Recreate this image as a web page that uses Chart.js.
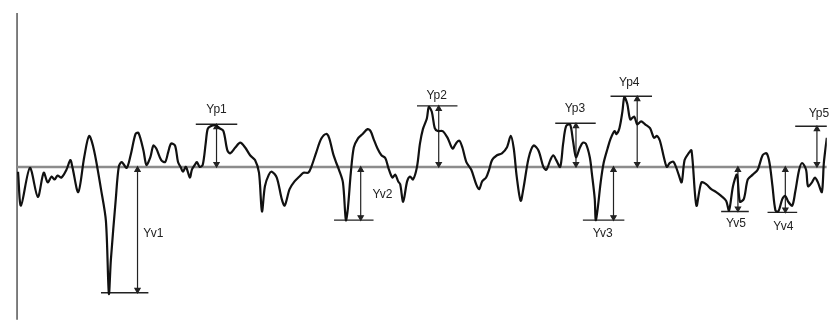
<!DOCTYPE html>
<html>
<head>
<meta charset="utf-8">
<script src="https://cdn.jsdelivr.net/npm/chart.js@4"></script>
<style>
  html, body { margin: 0; padding: 0; background: #fff; }
  #wrap { width: 832px; height: 327px; position: relative; }
</style>
</head>
<body>
<div id="wrap"><canvas id="profileChart"></canvas></div>
<script>
// profile trace: position along the sample and height above the mean line
const profileX = [13,16,25,33,39,43,47,50,53,57,62,66,68,74,80,85,90,97,102,105,107,112,115,118,123,127,132,135,
    140,143,147,150,153,158,162,165,168,172,175,178,180,183,187,189,192,194,197,200,203,205,208,213,217,221,225,228,
    233,238,243,248,253,257,260,263,267,270,275,280,283,288,293,298,302,307,310,315,320,325,328,332,335,338,342,345,
    347,350,353,357,362,367,370,373,377,381,385,388,392,395,398,400,403,407,410,413,417,420,423,427,429,432,435,438,
    443,448,453,457,460,463,467,472,477,480,483,487,490,493,498,503,508,512,515,518,522,525,530,535,540,545,548,552,
    555,558,562,565,568,572,575,578,582,585,588,592,594,597,598,600,603,606,610,613,617,619,622,625,627,630,633,637,
    640,644,648,653,657,660,663,667,670,673,677,682,685,688,692,695,700,705,710,715,720,725,730,733,737,741,744,748,
    752,757,762,767,771,774,777,780,783,787,790,793,797,800,804,807,811,813,817,820,823,827,829,832];
const profileY = [-5,-40,-1,-31,-6,-16,-10,-13,-9,-11,-3,7,0,-26,10,32,17,-23,-56,-131,-96,-33,0,5,-1,12,34,35,
    17,2,10,22,19,7,5,15,24,22,5,-1,-5,0,-11,-3,2,5,0,2,24,39,42,43,40,37,17,14,
    20,25,20,12,7,-6,-46,-20,-8,-5,-11,-33,-40,-23,-15,-10,-6,-6,0,15,29,34,30,14,5,-3,-16,-55,
    -43,-6,20,29,34,39,37,29,19,12,9,-1,-11,-8,-15,-18,-36,-15,-10,-13,0,24,39,50,62,57,40,37,
    37,30,19,25,27,20,5,-3,-18,-23,-15,-11,-3,7,12,14,20,32,19,-10,-35,-21,9,22,17,0,-3,7,
    12,7,0,24,42,44,27,10,20,25,24,10,-6,-33,-55,-43,-16,4,19,29,37,34,40,57,72,65,49,52,
    44,47,44,40,30,32,27,10,0,4,5,-8,-16,7,14,17,-40,-16,-18,-23,-26,-30,-35,-45,-20,-8,-36,-33,
    -13,-8,-3,12,14,4,-20,-45,-46,-33,-30,-36,-40,-26,-3,4,-3,-20,-16,-11,-16,-26,4,30];

// peak / valley markings
const markNames  = ['Yp1','Yp2','Yp3','Yp4','Yp5','Yv1','Yv2','Yv3','Yv5','Yv4'];
const markLevel  = [44, 63, 45, 73, 42, -130, -55, -55, -46, -47];
const markFrom   = [193, 417, 557, 613, 800, 97, 333, 585, 725, 772];
const markTo     = [235, 458, 598, 655, 834, 145, 373, 627, 753, 802];
const markArrowX = [214, 439, 578, 640, 822, 134, 360, 616, 742, 790];
const labelX     = [214, 437, 577, 632, 824, 150, 382, 605, 740, 788];
const labelY     = [59, 74, 60, 87, 55, -69, -29, -69, -59, -62];

const axisX = 12;
const axisTop = 159;
const axisBottom = -158;

let datasets = [];

datasets.push({
    data: profileX.map((x, i) => ({x: x, y: profileY[i]})),
    borderColor: '#111',
    borderWidth: 2.2,
    pointRadius: 0,
    tension: 0.3,
    order: 1
});

// mean line
datasets.push({
    data: [{x: axisX, y: 0}, {x: 832, y: 0}],
    borderColor: '#8c8c8c',
    borderWidth: 2.5,
    pointRadius: 0,
    order: 3
});

// vertical axis
datasets.push({
    data: [{x: axisX, y: axisTop}, {x: axisX, y: axisBottom}],
    borderColor: '#555',
    borderWidth: 1.5,
    pointRadius: 0,
    order: 3
});

for (let i = 0; i < markNames.length; i++) {
    let lvl = markLevel[i];
    datasets.push({
        data: [{x: markFrom[i], y: lvl}, {x: markTo[i], y: lvl}],
        borderColor: '#222',
        borderWidth: 1.4,
        pointRadius: 0,
        order: 2
    });
    let topY = Math.max(lvl, 0);
    let botY = Math.min(lvl, 0);
    datasets.push({
        data: [{x: markArrowX[i], y: topY - 3}, {x: markArrowX[i], y: botY + 3}],
        borderColor: '#222',
        backgroundColor: '#222',
        borderWidth: 1.2,
        pointStyle: 'triangle',
        pointRadius: 3,
        pointRotation: [0, 180],
        order: 2
    });
}

const markLabels = {
    id: 'markLabels',
    afterDatasetsDraw(chart) {
        let ctx = chart.ctx;
        let xs = chart.scales.x;
        let ys = chart.scales.y;
        ctx.save();
        ctx.font = '12px "Liberation Sans", Arial, sans-serif';
        ctx.fillStyle = '#222';
        ctx.textAlign = 'center';
        ctx.textBaseline = 'middle';
        for (let i = 0; i < markNames.length; i++) {
            ctx.fillText(markNames[i], xs.getPixelForValue(labelX[i]), ys.getPixelForValue(labelY[i]));
        }
        ctx.restore();
    }
};

new Chart(document.getElementById('profileChart'), {
    type: 'line',
    data: { datasets: datasets },
    plugins: [markLabels],
    options: {
        responsive: true,
        maintainAspectRatio: false,
        animation: false,
        layout: { padding: 0 },
        plugins: {
            legend: { display: false },
            tooltip: { enabled: false }
        },
        scales: {
            x: { type: 'linear', min: 0, max: 832, display: false },
            y: { type: 'linear', min: -160, max: 167, display: false }
        }
    }
});
</script>
</body>
</html>
